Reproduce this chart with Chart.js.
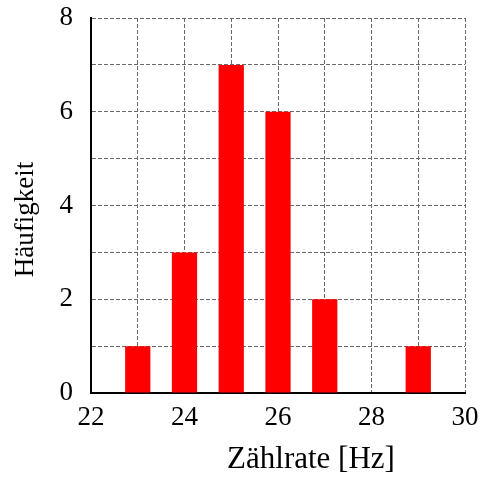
<!DOCTYPE html>
<html>
<head>
<meta charset="utf-8">
<script src="https://cdn.jsdelivr.net/npm/chart.js@4"></script>
<style>
  html, body { margin: 0; padding: 0; background: #fff; }
  canvas { display: block; }
</style>
</head>
<body>
<canvas id="histogram" width="480" height="477"></canvas>
<script>
// Zählrate [Hz] -> Häufigkeit
let zaehlrate = [23, 24, 25, 26, 27, 29];
let haeufigkeit = [1, 3, 7, 6, 2, 1];

let xTitle = "Zählrate [Hz]";
let yTitle = "Häufigkeit";

let serif = "'Liberation Serif', 'DejaVu Serif', serif";

// axis titles sit a bit off-center in the original, so draw them by hand
let axisTitles = {
  id: "axisTitles",
  afterDraw(chart) {
    let ctx = chart.ctx;
    let area = chart.chartArea;
    ctx.save();
    ctx.fillStyle = "#000";
    ctx.textAlign = "center";
    ctx.textBaseline = "alphabetic";
    ctx.font = "31px " + serif;
    ctx.fillText(xTitle, (area.left + area.right) / 2 + 33, 468);
    ctx.translate(33, (area.top + area.bottom) / 2 + 14);
    ctx.rotate(-Math.PI / 2);
    ctx.font = "27px " + serif;
    ctx.fillText(yTitle, 0, 0);
    ctx.restore();
  },
};

let histogram = new Chart("histogram", {
  type: "bar",
  data: {
    datasets: [
      {
        data: zaehlrate.map((x, i) => ({ x: x, y: haeufigkeit[i] })),
        backgroundColor: "#ff0000",
        borderWidth: 0,
        categoryPercentage: 1,
        barPercentage: 0.54,
      },
    ],
  },
  options: {
    responsive: false,
    animation: false,
    layout: {
      padding: { top: 18, right: 15, left: 0, bottom: 0 },
    },
    plugins: {
      legend: { display: false },
      tooltip: { enabled: false },
      title: { display: false },
    },
    scales: {
      x: {
        type: "linear",
        min: 22,
        max: 30,
        offset: false,
        afterFit: (scale) => {
          scale.height = 84;
          scale.paddingLeft = 0;
          scale.paddingRight = 0;
        },
        ticks: {
          stepSize: 1,
          color: "#000",
          padding: 9,
          maxRotation: 0,
          font: { family: serif, size: 27 },
          callback: (value) => (value % 2 === 0 ? value : ""),
        },
        grid: {
          offset: false,
          color: "#6a6a6a",
          lineWidth: 1,
          drawTicks: false,
        },
        border: {
          color: "#000",
          width: 2,
          dash: [4, 2],
        },
      },
      y: {
        min: 0,
        max: 8,
        afterFit: (scale) => {
          scale.width = 91;
          scale.paddingTop = 0;
          scale.paddingBottom = 0;
        },
        ticks: {
          stepSize: 1,
          color: "#000",
          padding: 18,
          font: { family: serif, size: 27 },
          callback: (value) => (value % 2 === 0 ? value : ""),
        },
        grid: {
          color: "#6a6a6a",
          lineWidth: 1,
          drawTicks: false,
        },
        border: {
          color: "#000",
          width: 2,
          dash: [4, 2],
        },
      },
    },
  },
  plugins: [axisTitles],
});
</script>
</body>
</html>
